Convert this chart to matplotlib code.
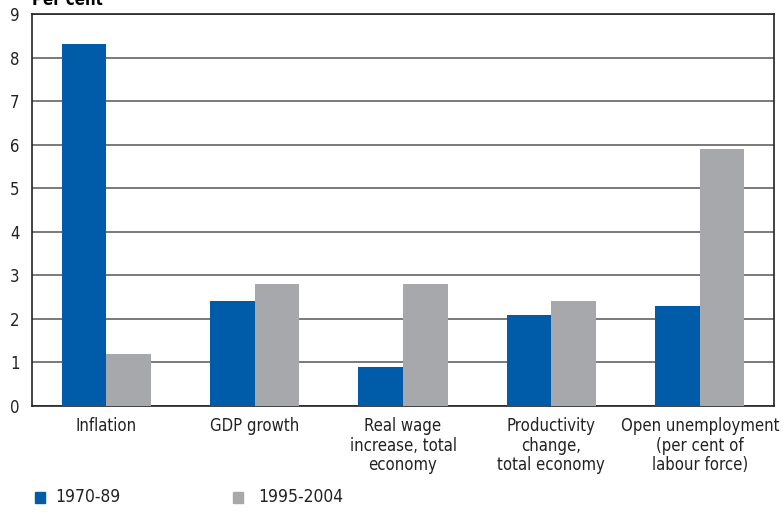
import matplotlib.pyplot as plt
import numpy as np
from matplotlib.patches import Rectangle

plt.rcParams['font.family'] = ['DejaVu Sans']
plt.rcParams['font.stretch'] = 'condensed'

categories = ["Inflation", "GDP growth", "Real wage\nincrease, total\neconomy",
              "Productivity\nchange,\ntotal economy",
              "Open unemployment\n(per cent of\nlabour force)"]
period_1 = [8.3, 2.4, 0.9, 2.1, 2.3]
period_2 = [1.2, 2.8, 2.8, 2.4, 5.9]
series_names = ["1970-89", "1995-2004"]
blue = "#005ca9"
grey = "#a7a8ab"

fig = plt.figure(figsize=(7.83, 5.12), dpi=100)
ax = fig.add_axes([32/783, 1-406/512, 742/783, 392/512])

x = np.arange(len(categories))
w = 0.30
ax.bar(x - w/2, period_1, w, color=blue, zorder=3)
ax.bar(x + w/2, period_2, w, color=grey, zorder=3)

ax.set_xlim(-0.5, 4.5)
ax.set_ylim(0, 9)
ax.set_yticks(range(10))
ax.yaxis.grid(True, color="#555555", linewidth=1.1, zorder=0)
ax.tick_params(axis='y', length=0, labelsize=12, pad=9, labelcolor="#222222")
ax.tick_params(axis='x', length=0, labelsize=12, pad=8, labelcolor="#222222")
ax.set_xticks(x)
ax.set_xticklabels(categories, linespacing=1.1)
for s in ax.spines.values():
    s.set_color("#222222")
    s.set_linewidth(1.2)

fig.text(32/783, 1.0, "Per cent", fontsize=12, fontweight='bold', va='center', ha='left')

# legend squares along the bottom
for xs, xt, c, name in [(35, 55, blue, series_names[0]), (233, 258, grey, series_names[1])]:
    fig.patches.append(Rectangle((xs/783, 1-503/512), 10/783, 11/512,
                                 transform=fig.transFigure, color=c))
    fig.text(xt/783, 1-497/512, name, fontsize=12.5, va='center', ha='left', color="#222222")

fig.savefig("out.png", dpi=100)
